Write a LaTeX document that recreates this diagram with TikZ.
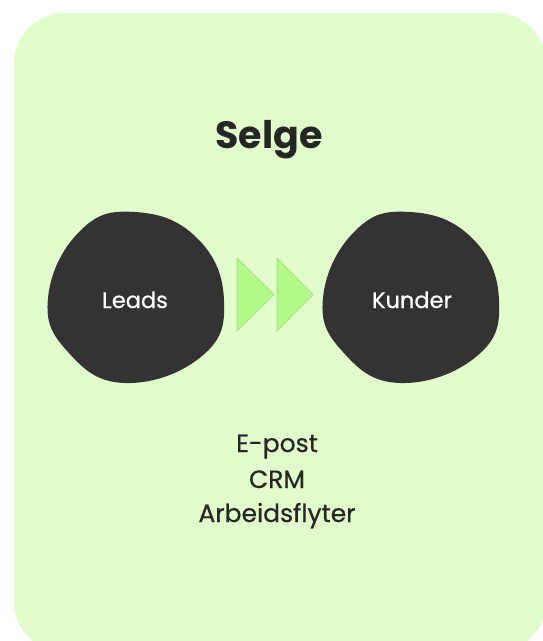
\documentclass[tikz,border=0pt]{standalone}
\usepackage{fontspec}
\setmainfont{Poppins}
\newfontfamily\medfont{Poppins}[FakeBold=0.6]
\definecolor{bgreen}{HTML}{E1FDCB}
\definecolor{agreen}{HTML}{B2F98A}
\definecolor{aedge}{HTML}{9EE078}
\definecolor{blobc}{HTML}{333333}
\definecolor{txtc}{HTML}{262626}
\tikzset{
  blob/.style={fill=blobc, draw=none},
  arrowtri/.style={fill=agreen, draw=aedge, line width=0.6pt, line join=miter},
  blobtext/.style={text=white, anchor=base, font=\medfont\fontsize{22.5}{26}\selectfont},
  listtext/.style={text=txtc, anchor=base, font=\medfont\fontsize{25}{29}\selectfont},
  titletext/.style={text=txtc, anchor=base, font=\bfseries\fontsize{38}{44}\selectfont}
}
\begin{document}
\begin{tikzpicture}[x=1pt,y=-1pt]
\useasboundingbox (0,0) rectangle (543,641);
% background card
\fill[bgreen, rounded corners=50pt] (14,13) rectangle (546,652);
% title
\node[titletext] (title) at (269,148) {Selge};
% blobs
\foreach \dx/\nm in {0/leadsblob,275/kunderblob}{
  \begin{scope}[xshift=\dx pt]
  \path[blob] plot[smooth cycle, tension=0.75] coordinates {
    (135,212) (197,238) (224,300) (202,356) (125,383) (68,352) (48,298) (80,231)};
  \end{scope}
}
\node[blobtext] (leads) at (135,308) {Leads};
\node[blobtext] (kunder) at (412,308) {Kunder};
% arrows
\path[arrowtri] (237,258) -- (274,294.5) -- (237,331) -- cycle;
\path[arrowtri] (277,258) -- (313,294.5) -- (277,331) -- cycle;
% list
\node[listtext] (l1) at (277,452) {E-post};
\node[listtext] (l2) at (277,488) {CRM};
\node[listtext] (l3) at (277,522) {Arbeidsflyter};
\end{tikzpicture}
\end{document}
